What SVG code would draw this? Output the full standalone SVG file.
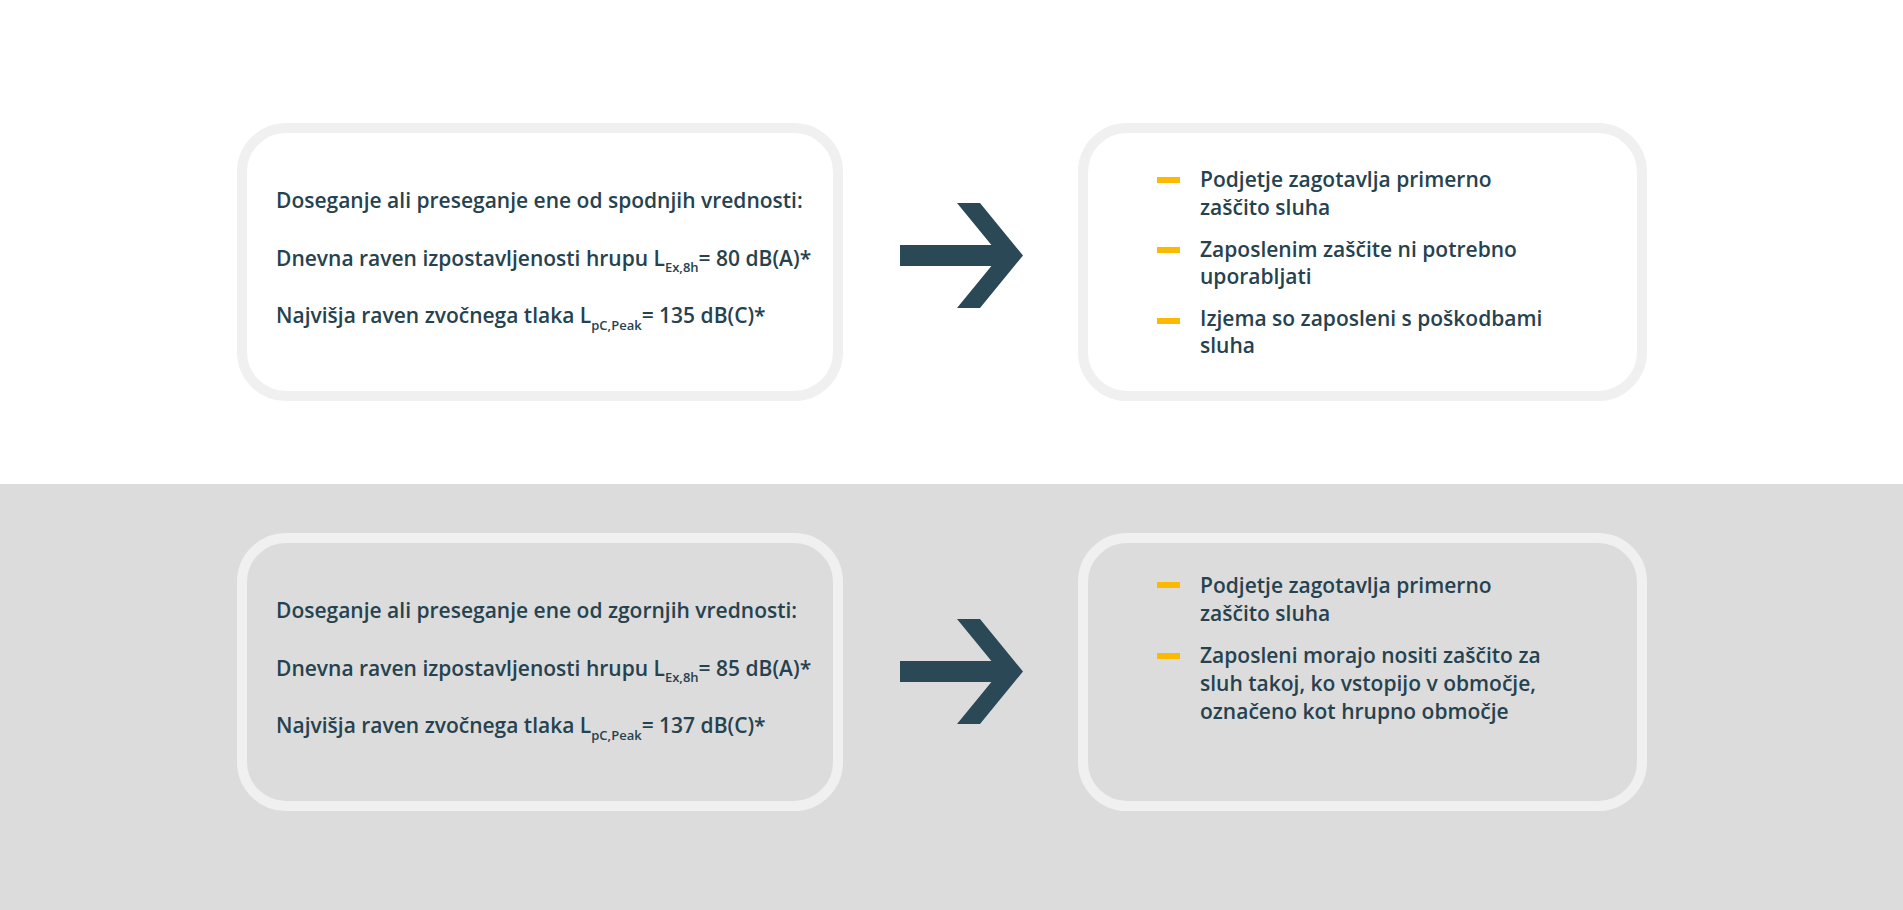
<svg xmlns="http://www.w3.org/2000/svg" width="1903" height="910" viewBox="0 0 1903 910">
<style>
.box{stroke:#f0f0f0;stroke-width:10}
.t{font-family:"Open Sans",Lato,sans-serif;font-size:21px;font-weight:600;fill:#26424f}
.sub{font-size:13px}
.bul{fill:#fbb900}
.arr{fill:#2a4855}
</style>
<rect x="0" y="0" width="1903" height="484" fill="#ffffff"/>
<rect x="0" y="484" width="1903" height="426" fill="#dcdcdc"/>

<g id="node-upper-left">
<rect class="box" x="242" y="128" width="596" height="268" rx="44" fill="#ffffff"/>
<text class="t" x="276" y="208">Doseganje ali preseganje ene od spodnjih vrednosti:</text>
<text class="t" x="276" y="266">Dnevna raven izpostavljenosti hrupu L<tspan class="sub" dy="6">Ex,8h</tspan><tspan dy="-6">= 80 dB(A)*</tspan></text>
<text class="t" x="276" y="323">Najvišja raven zvočnega tlaka L<tspan class="sub" dy="7">pC,Peak</tspan><tspan dy="-7">= 135 dB(C)*</tspan></text>
</g>

<g id="node-upper-right">
<rect class="box" x="1083" y="128" width="559" height="268" rx="44" fill="#ffffff"/>
<rect class="bul" x="1157" y="177" width="23" height="6"/>
<rect class="bul" x="1157" y="247" width="23" height="6"/>
<rect class="bul" x="1157" y="318" width="23" height="6"/>
<text class="t" x="1200" y="187">Podjetje zagotavlja primerno</text>
<text class="t" x="1200" y="215">zaščito sluha</text>
<text class="t" x="1200" y="257">Zaposlenim zaščite ni potrebno</text>
<text class="t" x="1200" y="284">uporabljati</text>
<text class="t" x="1200" y="326">Izjema so zaposleni s poškodbami</text>
<text class="t" x="1200" y="353">sluha</text>
</g>

<g id="node-lower-left">
<rect class="box" x="242" y="538" width="596" height="268" rx="44" fill="#dcdcdc"/>
<text class="t" x="276" y="618">Doseganje ali preseganje ene od zgornjih vrednosti:</text>
<text class="t" x="276" y="676">Dnevna raven izpostavljenosti hrupu L<tspan class="sub" dy="6">Ex,8h</tspan><tspan dy="-6">= 85 dB(A)*</tspan></text>
<text class="t" x="276" y="733">Najvišja raven zvočnega tlaka L<tspan class="sub" dy="7">pC,Peak</tspan><tspan dy="-7">= 137 dB(C)*</tspan></text>
</g>

<g id="node-lower-right">
<rect class="box" x="1083" y="538" width="559" height="268" rx="44" fill="#dcdcdc"/>
<rect class="bul" x="1157" y="582" width="23" height="6"/>
<rect class="bul" x="1157" y="653" width="23" height="6"/>
<text class="t" x="1200" y="593">Podjetje zagotavlja primerno</text>
<text class="t" x="1200" y="621">zaščito sluha</text>
<text class="t" x="1200" y="663">Zaposleni morajo nositi zaščito za</text>
<text class="t" x="1200" y="691">sluh takoj, ko vstopijo v območje,</text>
<text class="t" x="1200" y="719">označeno kot hrupno območje</text>
</g>

<g id="connectors">
<g id="arrow-upper" class="arr">
<rect x="900" y="245" width="100" height="21"/>
<polygon points="957,203 980,203 1023,255.5 980,308 957,308 1000,255.5"/>
</g>
<g id="arrow-lower" class="arr">
<rect x="900" y="661" width="100" height="21"/>
<polygon points="957,619 980,619 1023,671.5 980,724 957,724 1000,671.5"/>
</g>
</g>
</svg>
